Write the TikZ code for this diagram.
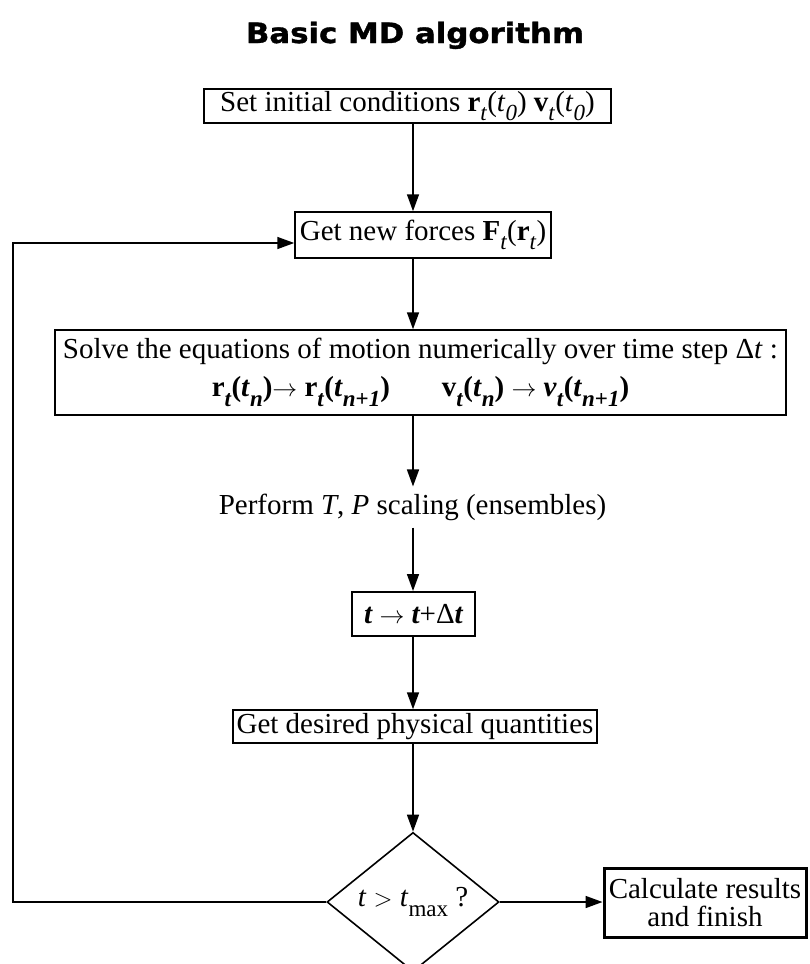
\documentclass[tikz,border=0pt]{standalone}
\usepackage{graphicx}
\usepackage{fontspec}
\setmainfont{Liberation Serif}
\newfontfamily\titlefont[FakeBold=1.2]{DejaVu Sans Bold}
\usetikzlibrary{shapes.geometric,arrows.meta}
\newcommand\sbx[1]{\raisebox{-0.32em}{\fontsize{23pt}{23pt}\selectfont #1}}
\newcommand\rarr{\ensuremath{\rightarrow}}
\begin{document}
\begin{tikzpicture}[x=1pt,y=-1pt,
  every node/.style={font=\fontsize{29pt}{30pt}\selectfont},
  box/.style={draw, line width=1.5pt, inner sep=0pt, align=center},
  arr/.style={line width=1.6pt, -{Triangle[length=17pt,width=12pt]}},
]
\useasboundingbox (0,0) rectangle (809,964);
\clip (0,0) rectangle (809,964);

\node[anchor=base, font=\titlefont\fontsize{28pt}{30pt}\selectfont] (title) at (415,43) {\scalebox{1.1}[1]{Basic MD algorithm}};

\node[box, minimum width=407pt, minimum height=34pt] (b1) at (407.5,106)
  {Set initial conditions \textbf{r}\sbx{\textit{t}}(\textit{t}\sbx{\textit{0}}) \textbf{v}\sbx{\textit{t}}(\textit{t}\sbx{\textit{0}})};

\node[box, minimum width=256pt, minimum height=46pt] (b2) at (423,235)
  {Get new forces \textbf{F}\sbx{\textit{t}}(\textbf{r}\sbx{\textit{t}})};

\node[box, minimum width=731pt, minimum height=85pt] (b3) at (420.5,372.5)
  {Solve the equations of motion numerically over time step Δ\textit{t} :\\[8pt]
   {\bfseries r\sbx{\textit{t}}(\textit{t}\sbx{\textit{n}})\rarr\ r\sbx{\textit{t}}(\textit{t}\sbx{\textit{n}+\textit{1}})\hspace{52pt}v\sbx{\textit{t}}(\textit{t}\sbx{\textit{n}}) \rarr\ \textit{v}\sbx{\textit{t}}(\textit{t}\sbx{\textit{n}+\textit{1}})}};

\node[inner xsep=0pt, inner ysep=7pt] (pf) at (412.5,507)
  {Perform \textit{T}, \textit{P} scaling (ensembles)};

\node[box, line width=2pt, minimum width=123pt, minimum height=44pt] (b4) at (413.5,614)
  {{\bfseries\itshape t} \rarr\ {\bfseries\itshape t}+Δ{\bfseries\itshape t}};

\node[box, minimum width=364pt, minimum height=33pt] (b5) at (415,726.5)
  {Get desired physical quantities};

\node[draw, diamond, line width=1.6pt, inner sep=0pt, minimum width=172pt, minimum height=134pt] (d) at (413,902)
  {\textit{t} \ensuremath{>} \textit{t}\sbx{max} ?};

\node[box, line width=3pt, minimum width=202pt, minimum height=69pt, font=\fontsize{29pt}{28pt}\selectfont] (cb) at (705,902.5)
  {Calculate results\\and finish};

\coordinate (ax) at (413,0);
\coordinate (lx) at (13,243);
\draw[arr] (b1.south -| ax) -- (b2.north -| ax);
\draw[arr] (b2.south -| ax) -- (b3.north -| ax);
\draw[arr] (b3.south -| ax) -- (pf.north -| ax);
\draw[arr] (pf.south -| ax) -- (b4.north -| ax);
\draw[arr] (b4.south -| ax) -- (b5.north -| ax);
\draw[arr] (b5.south -| ax) -- (d.north);
\draw[arr] (d.east) -- (cb.west |- d.east);
\draw[arr] (d.west) -| (lx) -- (b2.west |- lx);
\end{tikzpicture}
\end{document}
